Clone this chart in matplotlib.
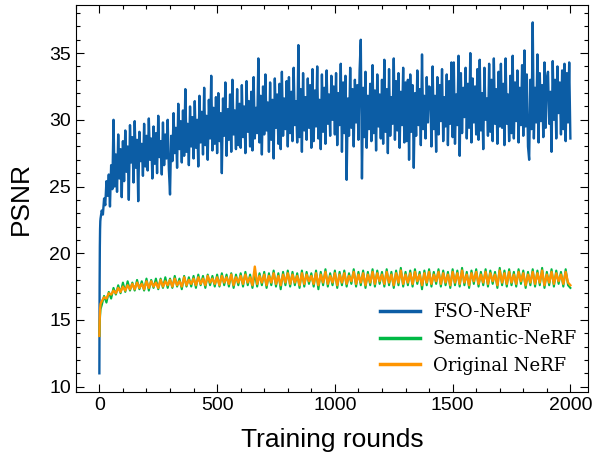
import matplotlib
matplotlib.use("Agg")
import matplotlib.pyplot as plt
from matplotlib.ticker import MultipleLocator

# training rounds where the curves were sampled
rounds_fso = [0, 1, 2, 3, 4] + list(range(5, 2001, 5))
rounds_base = [0, 1, 2, 3, 4, 5] + list(range(10, 2001, 10))

fso_nerf = [
    11.0, 17.5, 20.5, 21.8, 22.4,
    22.6, 23.2, 22.9, 24.1, 23.6, 25.4, 24.3, 25.9, 23.5, 26.6, 24.8, 30.0, 25.0, 27.4, 24.6, 28.9, 25.6, 27.8, 24.2, 28.4,
    25.4, 29.2, 26.1, 28.0, 24.0, 29.6, 26.8, 28.7, 25.3, 29.9, 26.4, 28.5, 23.9, 29.1, 26.9, 28.2, 25.8, 29.7, 26.5, 28.8,
    26.2, 30.1, 27.0, 28.6, 25.6, 29.5, 26.7, 29.0, 26.0, 30.3, 27.2, 28.4, 25.9, 29.8, 26.6, 28.9, 27.1, 30.0, 26.3, 24.4,
    28.8, 26.9, 30.5, 27.5, 29.4, 26.4, 31.2, 27.8, 29.9, 26.8, 30.7, 27.3, 32.3, 27.6, 29.7, 26.6, 31.0, 28.0, 30.2, 27.1,
    31.4, 27.9, 30.0, 26.5, 31.8, 28.3, 30.6, 27.4, 32.4, 28.1, 30.3, 27.0, 31.5, 28.6, 33.3, 27.7, 30.9, 28.2, 31.7, 27.5,
    32.0, 28.4, 30.5, 26.0, 31.6, 28.8, 32.8, 27.3, 30.8, 28.5, 31.9, 27.6, 33.0, 28.9, 30.7, 27.8, 32.3, 28.1, 31.2, 27.9,
    32.6, 28.7, 31.0, 27.5, 32.9, 29.1, 31.4, 28.0, 32.1, 27.7, 33.2, 28.6, 30.9, 29.0, 34.6, 28.3, 31.8, 27.4, 32.5, 28.9,
    33.4, 29.2, 31.3, 27.6, 32.8, 28.5, 31.5, 27.1, 33.1, 29.4, 31.9, 28.2, 32.7, 27.8, 33.6, 28.8, 31.6, 29.3, 32.9, 28.0,
    33.2, 29.0, 32.1, 28.4, 33.9, 29.6, 31.4, 28.3, 35.6, 28.7, 32.3, 27.6, 33.5, 29.2, 31.7, 28.5, 33.1, 29.4, 32.6, 27.9,
    33.8, 28.4, 32.2, 29.5, 34.0, 28.6, 31.5, 27.8, 33.4, 29.1, 32.4, 28.2, 33.7, 29.7, 31.9, 28.8, 33.3, 30.0, 32.5, 28.9,
    33.5, 28.1, 32.0, 29.6, 34.2, 27.6, 32.8, 29.0, 33.3, 25.5, 31.6, 28.8, 33.9, 29.4, 32.3, 28.0, 33.0, 29.8, 32.6, 28.5,
    33.7, 36.0, 25.6, 32.4, 28.7, 33.6, 27.9, 31.8, 29.3, 32.7, 28.4, 34.1, 29.0, 32.2, 27.7, 33.4, 29.5, 31.9, 28.6, 33.0,
    28.2, 34.5, 29.1, 32.3, 27.5, 33.8, 28.8, 31.7, 29.7, 34.6, 28.5, 32.9, 29.2, 33.5, 27.9, 32.1, 29.6, 33.9, 28.3, 32.8,
    28.4, 33.0, 27.0, 33.4, 29.1, 32.6, 26.4, 32.0, 28.8, 33.7, 29.6, 32.3, 28.1, 34.9, 29.3, 31.8, 28.6, 33.2, 29.8, 32.5,
    32.4, 28.0, 34.0, 29.3, 31.8, 27.6, 33.2, 28.9, 32.6, 29.9, 33.8, 28.4, 31.7, 29.5, 33.4, 28.1, 32.9, 29.7, 34.3, 28.7,
    34.3, 28.2, 31.9, 29.6, 34.8, 27.3, 33.5, 29.0, 32.4, 30.2, 33.9, 28.6, 32.7, 29.4, 35.0, 28.3, 33.1, 29.8, 32.5, 28.9,
    33.8, 28.5, 34.5, 29.2, 32.0, 27.8, 33.9, 30.0, 31.6, 28.8, 34.2, 29.1, 33.0, 28.4, 34.6, 29.7, 32.3, 28.2, 33.6, 29.5,
    34.2, 29.4, 32.7, 28.1, 34.6, 29.7, 31.9, 28.4, 33.3, 29.0, 34.8, 28.6, 32.8, 29.9, 33.7, 28.3, 32.4, 29.6, 34.1, 28.8,
    35.2, 29.5, 33.4, 28.0, 27.0, 33.0, 29.3, 37.3, 28.6, 32.4, 29.8, 34.9, 28.3, 33.5, 29.9, 32.6, 28.7, 34.3, 29.4, 33.1,
    33.6, 29.7, 32.1, 27.6, 34.4, 30.0, 33.0, 28.6, 34.0, 30.5, 32.8, 28.9, 33.7, 29.3, 34.2, 28.4, 33.5, 29.8, 34.3, 28.6,
]

semantic_nerf = [
    13.8, 14.6, 15.0, 15.3, 15.6, 15.8,
    16.1, 16.8, 16.3, 17.1, 16.6, 17.4, 16.9, 17.6, 17.0, 17.8,
    17.1, 17.9, 17.2, 17.8, 17.2, 18.0, 17.3, 17.9, 17.2, 18.1,
    17.2, 18.0, 17.4, 18.1, 17.3, 18.1, 17.4, 18.2, 17.4, 18.1,
    17.4, 18.3, 17.5, 18.1, 17.3, 18.3, 17.5, 18.2, 17.5, 18.3,
    17.4, 18.4, 17.6, 18.3, 17.4, 18.4, 17.6, 18.3, 17.5, 18.4,
    17.5, 18.5, 17.6, 18.4, 17.5, 18.5, 17.4, 18.4, 17.6, 18.5,
    17.5, 18.6, 17.6, 18.4, 17.4, 18.5, 17.5, 18.5, 17.6, 18.6,
    17.4, 18.5, 17.6, 18.7, 17.5, 18.5, 17.3, 18.6, 17.6, 18.7,
    17.5, 18.6, 17.6, 18.5, 17.4, 18.7, 17.5, 18.6, 17.7, 18.5,
    17.5, 18.7, 17.3, 18.6, 17.6, 18.8, 17.5, 18.5, 17.6, 18.7,
    17.4, 18.6, 17.6, 18.7, 17.5, 18.5, 17.7, 18.8, 17.5, 18.6,
    17.6, 18.7, 17.4, 18.6, 17.6, 18.8, 17.5, 18.7, 17.7, 18.6,
    17.5, 18.8, 17.6, 18.6, 17.4, 18.7, 17.6, 18.9, 17.5, 18.6,
    17.6, 18.7, 17.5, 18.8, 17.7, 18.6, 17.3, 18.7, 17.6, 18.8,
    17.5, 18.6, 17.7, 18.8, 17.5, 18.7, 17.6, 18.6, 17.4, 18.8,
    17.6, 18.7, 17.5, 18.9, 17.6, 18.6, 17.4, 18.7, 17.7, 18.8,
    17.5, 18.6, 17.6, 18.8, 17.5, 18.7, 17.7, 18.6, 17.4, 18.9,
    17.6, 18.7, 17.5, 18.8, 17.6, 18.6, 17.5, 18.8, 17.7, 18.7,
    17.4, 18.6, 17.6, 18.8, 17.5, 18.7, 17.6, 18.9, 17.4, 18.6,
    17.6, 18.8, 17.5, 18.7, 17.7, 18.6, 17.5, 18.8, 17.6, 17.4,
]

original_nerf = [
    13.8, 14.9, 15.4, 15.8, 16.0, 16.2,
    16.4, 16.7, 16.6, 17.0, 16.9, 17.2, 17.0, 17.4, 17.1, 17.5,
    17.2, 17.6, 17.3, 17.7, 17.3, 17.8, 17.4, 17.7, 17.3, 17.9,
    17.4, 17.9, 17.5, 17.8, 17.4, 18.0, 17.5, 17.9, 17.6, 18.0,
    17.5, 18.1, 17.6, 17.9, 17.5, 18.2, 17.6, 18.0, 17.7, 18.1,
    17.6, 18.2, 17.7, 18.1, 17.6, 18.3, 17.8, 18.1, 17.7, 18.2,
    17.6, 18.3, 17.8, 18.2, 17.7, 18.4, 17.6, 18.2, 17.8, 18.3,
    17.7, 18.4, 17.8, 18.2, 17.6, 19.0, 17.7, 18.3, 17.8, 18.4,
    17.6, 18.3, 17.8, 18.5, 17.7, 18.3, 17.6, 18.4, 17.8, 18.5,
    17.7, 18.4, 17.8, 18.3, 17.6, 18.5, 17.7, 18.4, 17.9, 18.3,
    17.7, 18.5, 17.6, 18.4, 17.8, 18.6, 17.7, 18.3, 17.8, 18.5,
    17.6, 18.4, 17.8, 18.5, 17.7, 18.3, 17.9, 18.6, 17.7, 18.4,
    17.8, 18.5, 17.6, 18.4, 17.8, 18.6, 17.7, 18.5, 17.9, 18.4,
    17.7, 18.6, 17.8, 18.4, 17.6, 18.5, 17.8, 18.7, 17.7, 18.4,
    17.8, 18.5, 17.7, 18.6, 17.9, 18.4, 17.6, 18.5, 17.8, 18.6,
    17.7, 18.4, 17.9, 18.6, 17.7, 18.5, 17.8, 18.4, 17.6, 18.6,
    17.8, 18.5, 17.7, 18.7, 17.8, 18.4, 17.6, 18.5, 17.9, 18.6,
    17.7, 18.4, 17.8, 18.6, 17.7, 18.5, 17.9, 18.4, 17.6, 18.7,
    17.8, 18.5, 17.7, 18.6, 17.8, 18.4, 17.7, 18.6, 17.9, 18.5,
    17.6, 18.4, 17.8, 18.6, 17.7, 18.5, 17.8, 18.7, 17.6, 18.4,
    17.8, 18.6, 17.7, 18.5, 17.9, 18.4, 17.7, 18.6, 17.8, 17.6,
]

fig = plt.figure(figsize=(5.97, 4.59), dpi=100)
ax = fig.add_axes([0.127, 0.146, 0.858, 0.843])

ax.plot(rounds_fso, fso_nerf, color="#0C5DA5", lw=1.7, label="FSO-NeRF")
ax.plot(rounds_base, semantic_nerf, color="#00B945", lw=1.5, label="Semantic-NeRF")
ax.plot(rounds_base, original_nerf, color="#FF9500", lw=1.7, label="Original NeRF")

ax.set_xlim(-100, 2075)
ax.set_ylim(9.6, 38.6)
ax.xaxis.set_major_locator(MultipleLocator(500))
ax.xaxis.set_minor_locator(MultipleLocator(100))
ax.yaxis.set_major_locator(MultipleLocator(5))
ax.yaxis.set_minor_locator(MultipleLocator(1))
ax.tick_params(which="both", direction="in", top=True, right=True,
               labelsize=14, width=0.8)
ax.tick_params(which="major", length=6)
ax.tick_params(which="minor", length=3)
for lab in ax.get_xticklabels() + ax.get_yticklabels():
    lab.set_family("Liberation Sans")
for s in ax.spines.values():
    s.set_linewidth(0.8)

ax.set_xlabel("Training rounds", fontsize=19, family="Liberation Sans", labelpad=10)
ax.set_ylabel("PSNR", fontsize=19, family="Liberation Sans", labelpad=12)

leg = ax.legend(loc="lower right", frameon=False,
                prop={"family": "DejaVu Serif", "size": 13},
                handlelength=2.2, handletextpad=0.7, labelspacing=0.48,
                borderpad=0.1, borderaxespad=0, bbox_to_anchor=(0.982, 0.04))
for line in leg.get_lines():
    line.set_linewidth(2.5)

fig.savefig("out.png", dpi=100)
